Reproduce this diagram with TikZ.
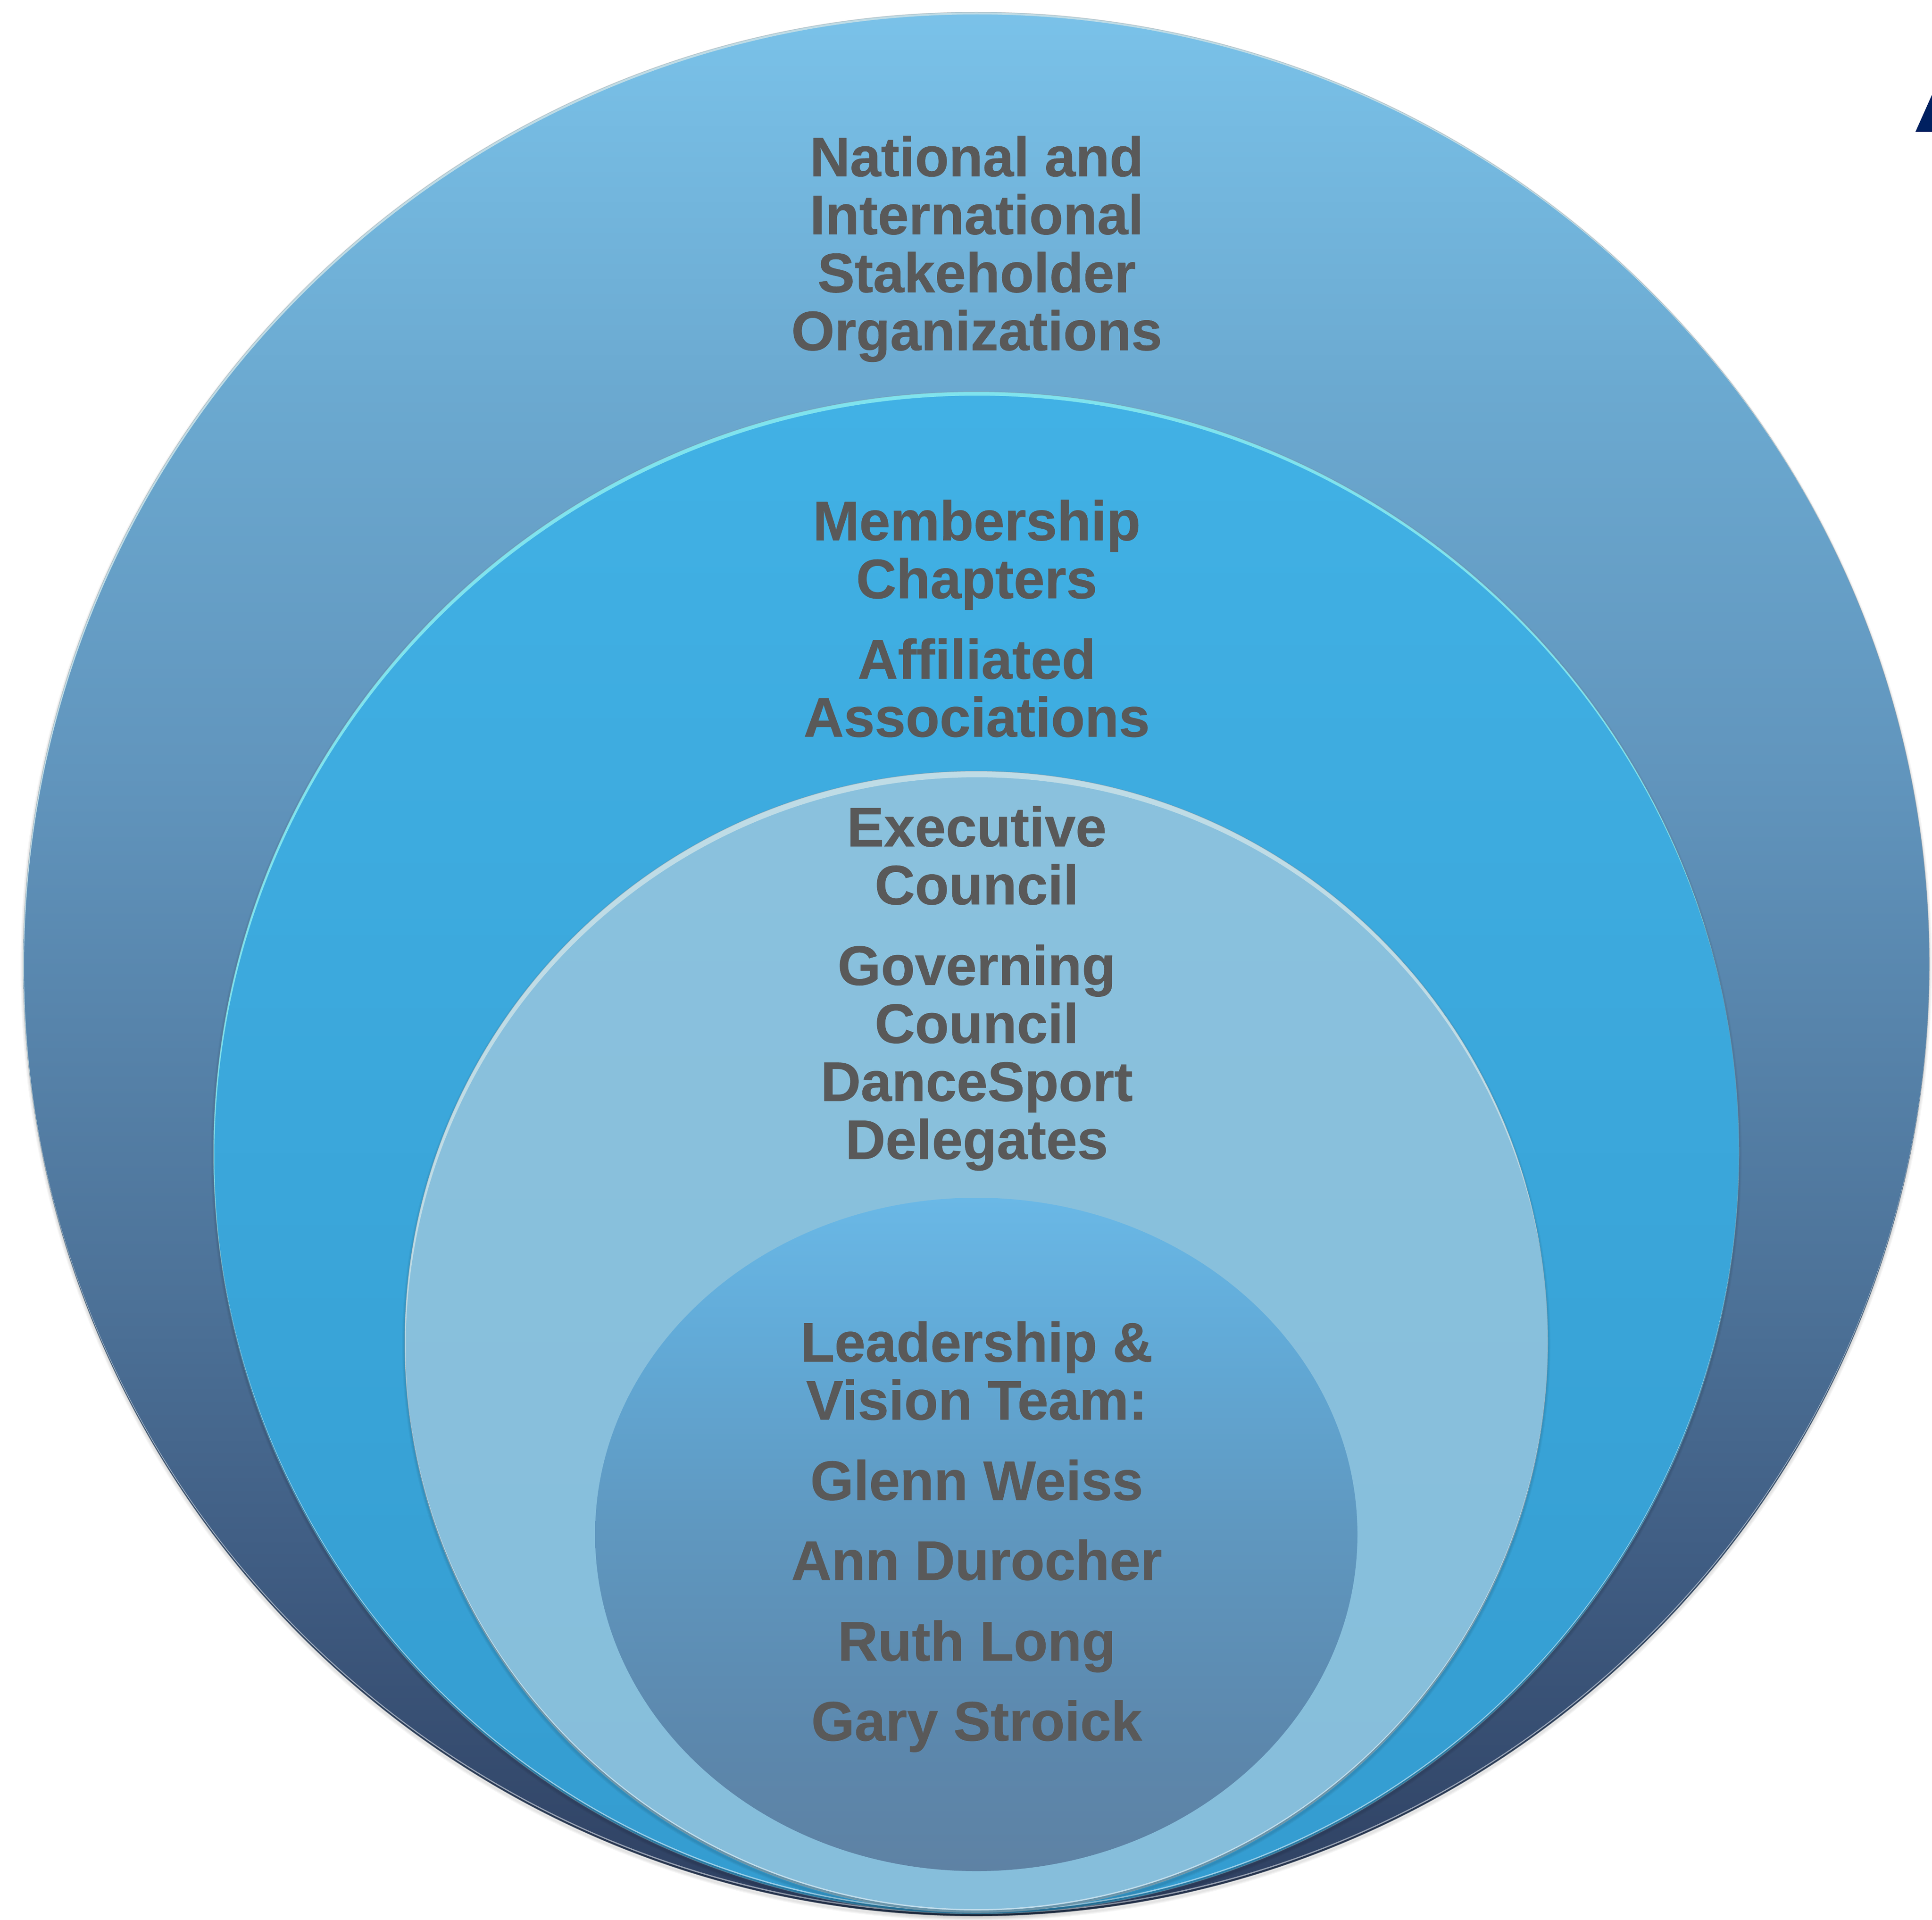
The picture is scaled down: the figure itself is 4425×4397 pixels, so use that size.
\documentclass[tikz,border=0pt]{standalone}
\usepackage{fontspec}
\setmainfont{Liberation Sans}[BoldFeatures={FakeBold=0.6}]
\definecolor{oA}{HTML}{7AC2E9}
\definecolor{oB}{HTML}{6BA9D0}
\definecolor{oC}{HTML}{6195BD}
\definecolor{oD}{HTML}{4C7197}
\definecolor{oE}{HTML}{3F5C82}
\definecolor{oF}{HTML}{2E3F60}
\definecolor{mA}{HTML}{41B1E5}
\definecolor{mB}{HTML}{349CD0}
\definecolor{tA}{HTML}{8AC1DD}
\definecolor{tB}{HTML}{86BEDB}
\definecolor{iA}{HTML}{6AB8E6}
\definecolor{iB}{HTML}{62ABD8}
\definecolor{iC}{HTML}{5F97BF}
\definecolor{iD}{HTML}{5C87AC}
\definecolor{iE}{HTML}{5E82A4}
\definecolor{labelgrey}{HTML}{595959}
\definecolor{navytri}{HTML}{002060}
\definecolor{rimcyan}{HTML}{7FE3EE}
\definecolor{rimpale}{HTML}{BFDCE6}
\pgfdeclareverticalshading{outershade}{100bp}{color(0bp)=(oF); color(25bp)=(oF); color(34bp)=(oE); color(41bp)=(oD); color(55bp)=(oC); color(65bp)=(oB); color(75bp)=(oA); color(100bp)=(oA)}
\pgfdeclareverticalshading{middleshade}{100bp}{color(0bp)=(mB); color(25bp)=(mB); color(75bp)=(mA); color(100bp)=(mA)}
\pgfdeclareverticalshading{thirdshade}{100bp}{color(0bp)=(tB); color(25bp)=(tB); color(75bp)=(tA); color(100bp)=(tA)}
\pgfdeclareverticalshading{innershade}{100bp}{color(0bp)=(iE); color(25bp)=(iE); color(34bp)=(iD); color(50bp)=(iC); color(65bp)=(iB); color(75bp)=(iA); color(100bp)=(iA)}
\tikzset{
  stacklabel/.style={anchor=base, inner sep=0pt, align=center, text=labelgrey,
    font=\fontsize{72.5}{75.6}\selectfont\bfseries},
  softshadow/.style={draw=black, draw opacity=0.035, fill=none},
}
% #1 cx, #2 cy, #3 rx, #4 ry, #5 shading, #6 top rim colour, #7 top rim depth
\newcommand{\ringdisc}[7]{%
  \foreach \w in {12,8,4}{\path[softshadow, line width=\w*0.02cm] (#1,#2+5) ellipse [x radius=#3, y radius=#4];}
  \shade[shading=#5] (#1,#2) ellipse [x radius=#3, y radius=#4];
  \begin{scope}
    \clip (#1,#2) ellipse [x radius=#3, y radius=#4];
    \fill[#6, even odd rule] (#1,#2) ellipse [x radius=#3, y radius=#4]
                             (#1+2,#2+#7) ellipse [x radius=#3, y radius=#4];
    \fill[black, fill opacity=0.22, even odd rule] (#1,#2) ellipse [x radius=#3, y radius=#4]
                             (#1,#2-5) ellipse [x radius=#3, y radius=#4];
    \fill[white, fill opacity=0.5, even odd rule] (#1,#2-5) ellipse [x radius=#3, y radius=#4]
                             (#1,#2-8) ellipse [x radius=#3, y radius=#4];
  \end{scope}
  \draw[black!40, draw opacity=0.25, line width=0.04cm] (#1,#2) ellipse [x radius=#3, y radius=#4];
}
\begin{document}
\begin{tikzpicture}[x=0.02cm,y=-0.02cm]
  \useasboundingbox (0,0) rectangle (4425,4397);
  \fill[white] (0,0) rectangle (4425,4397);
  \fill[navytri] (4387,302) -- (4425,217) -- (4425,302) -- cycle;

  \ringdisc{2236}{2208}{2183}{2180}{outershade}{rimpale}{5}
  \ringdisc{2236}{2640}{1747}{1743}{middleshade}{rimcyan}{9}
  \ringdisc{2236}{3073}{1309}{1307}{thirdshade}{rimpale}{14}
  \shade[shading=innershade] (2236,3514) ellipse [x radius=873, y radius=771];

  \node[stacklabel] (stakeholders) at (2237,802) {National and\\International\\Stakeholder\\Organizations};
  \node[stacklabel] (chapters) at (2237,1370) {Membership\\Chapters};
  \node[stacklabel] (affiliated) at (2237,1687) {Affiliated\\Associations};
  \node[stacklabel] (executive) at (2237,2071) {Executive\\Council};
  \node[stacklabel] (governing) at (2237,2654) {Governing\\Council\\DanceSport\\Delegates};
  \node[stacklabel] (leadership) at (2237,3251) {Leadership \&\\Vision Team:};
  \node[stacklabel] (glenn) at (2237,3435) {Glenn Weiss};
  \node[stacklabel] (ann) at (2237,3618) {Ann Durocher};
  \node[stacklabel] (ruth) at (2237,3803) {Ruth Long};
  \node[stacklabel] (gary) at (2237,3986) {Gary Stroick};
\end{tikzpicture}
\end{document}
